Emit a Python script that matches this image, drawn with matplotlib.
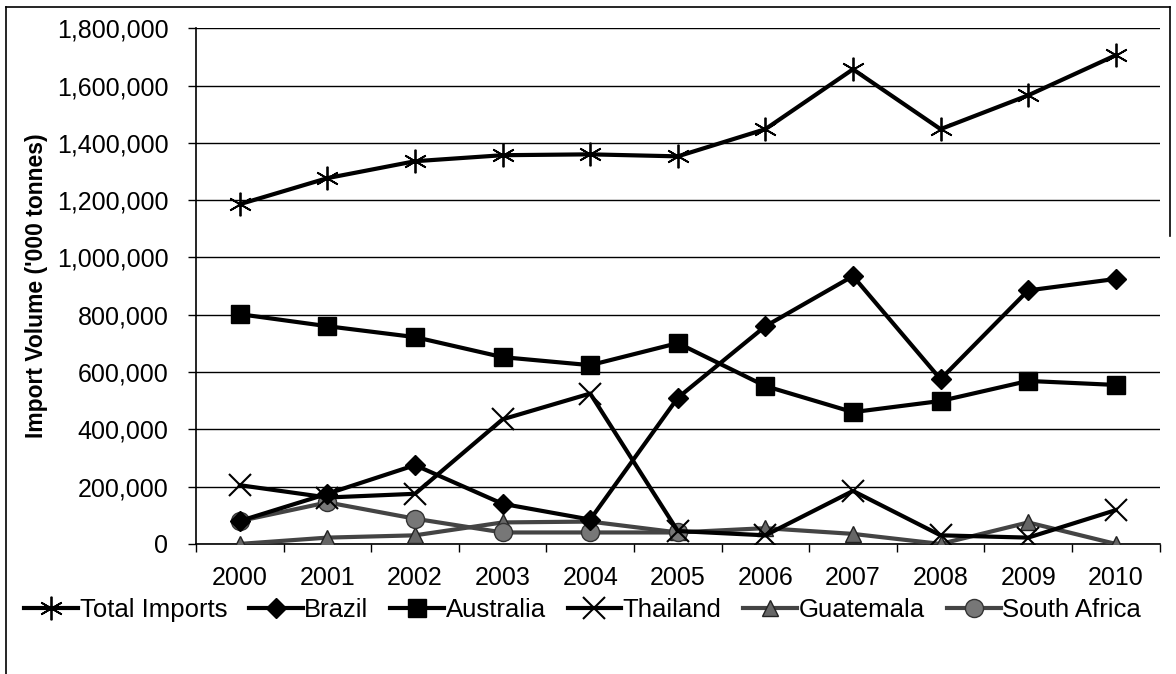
import numpy as np
import matplotlib
matplotlib.use("Agg")
import matplotlib.pyplot as plt
from matplotlib.ticker import FuncFormatter, FixedLocator
from matplotlib.lines import Line2D

plt.rcParams['font.family'] = ['Liberation Sans', 'DejaVu Sans']

years = [2000, 2001, 2002, 2003, 2004, 2005, 2006, 2007, 2008, 2009, 2010]
total_imports = [1186000, 1277000, 1336000, 1357000, 1360000, 1353000, 1448000, 1657000, 1448000, 1566000, 1706000]
brazil = [80000, 175000, 275000, 140000, 85000, 510000, 760000, 935000, 575000, 885000, 925000]
australia = [802000, 760000, 722000, 652000, 624000, 701000, 551000, 460000, 499000, 569000, 555000]
thailand = [205000, 162000, 175000, 435000, 525000, 45000, 30000, 185000, 30000, 22000, 118000]
guatemala = [0, 22000, 30000, 75000, 78000, 40000, 55000, 35000, 0, 75000, 0]
south_africa = [80000, 145000, 88000, 40000, 40000, 40000, np.nan, np.nan, np.nan, np.nan, np.nan]
y_ticks = [0, 200000, 400000, 600000, 800000, 1000000, 1200000, 1400000, 1600000, 1800000]

fig = plt.figure(figsize=(11.76, 6.74), dpi=100)
ax = fig.add_axes([0.1667, 0.193, 0.8193, 0.765])

x = np.arange(len(years))
asterisk = (6, 2, 0)
ax.plot(x, total_imports, color='black', lw=3, marker=asterisk, ms=17, mew=1.3, label='Total Imports', zorder=5)
ax.plot(x, brazil, color='black', lw=3, marker='D', ms=10, label='Brazil', zorder=5)
ax.plot(x, australia, color='black', lw=3, marker='s', ms=13, label='Australia', zorder=5)
ax.plot(x, thailand, color='black', lw=3, marker='x', ms=16, mew=1.5, label='Thailand', zorder=5)
ax.plot(x, guatemala, color='#444444', lw=3, marker='^', ms=12, mfc='#666666', mec='#222222', label='Guatemala', zorder=4)
ax.plot(x, south_africa, color='#444444', lw=3, marker='o', ms=13, mfc='#777777', mec='#333333', label='South Africa', zorder=4)

ax.set_xlim(-0.5, len(years) - 0.5)
ax.set_ylim(0, 1800000)
ax.set_yticks(y_ticks)
ax.yaxis.set_major_formatter(FuncFormatter(lambda v, p: f"{int(v):,}"))
ax.set_xticks(x)
ax.set_xticklabels([str(y) for y in years])
ax.xaxis.set_minor_locator(FixedLocator(np.arange(-0.5, len(years), 1.0)))
ax.tick_params(axis='x', which='major', length=0, labelsize=18, pad=16)
ax.tick_params(axis='x', which='minor', length=6, width=1, direction='out')
ax.tick_params(axis='y', length=6, width=1, direction='out', labelsize=18, pad=14)

ax.grid(axis='y', color='black', lw=1)
ax.set_axisbelow(True)
for s in ['top', 'right']:
    ax.spines[s].set_visible(False)
ax.spines['left'].set_linewidth(1.2)
ax.spines['bottom'].set_linewidth(1.2)

ax.set_ylabel("Import Volume ('000 tonnes)", fontsize=16.5, fontweight='bold', labelpad=6)

leg = fig.legend(loc='upper left', bbox_to_anchor=(0.012, 0.128), ncol=6, frameon=False,
                 fontsize=18.5, handlelength=2.1, handletextpad=0.05, columnspacing=0.85,
                 borderaxespad=0)

# figure frame
fig.add_artist(Line2D([0.005, 0.005], [0.0, 0.99], transform=fig.transFigure, color='black', lw=1.2))
fig.add_artist(Line2D([0.005, 0.995], [0.99, 0.99], transform=fig.transFigure, color='black', lw=1.2))
fig.add_artist(Line2D([0.995, 0.995], [0.99, 0.65], transform=fig.transFigure, color='black', lw=1.2))

fig.savefig('out.png', dpi=100)
